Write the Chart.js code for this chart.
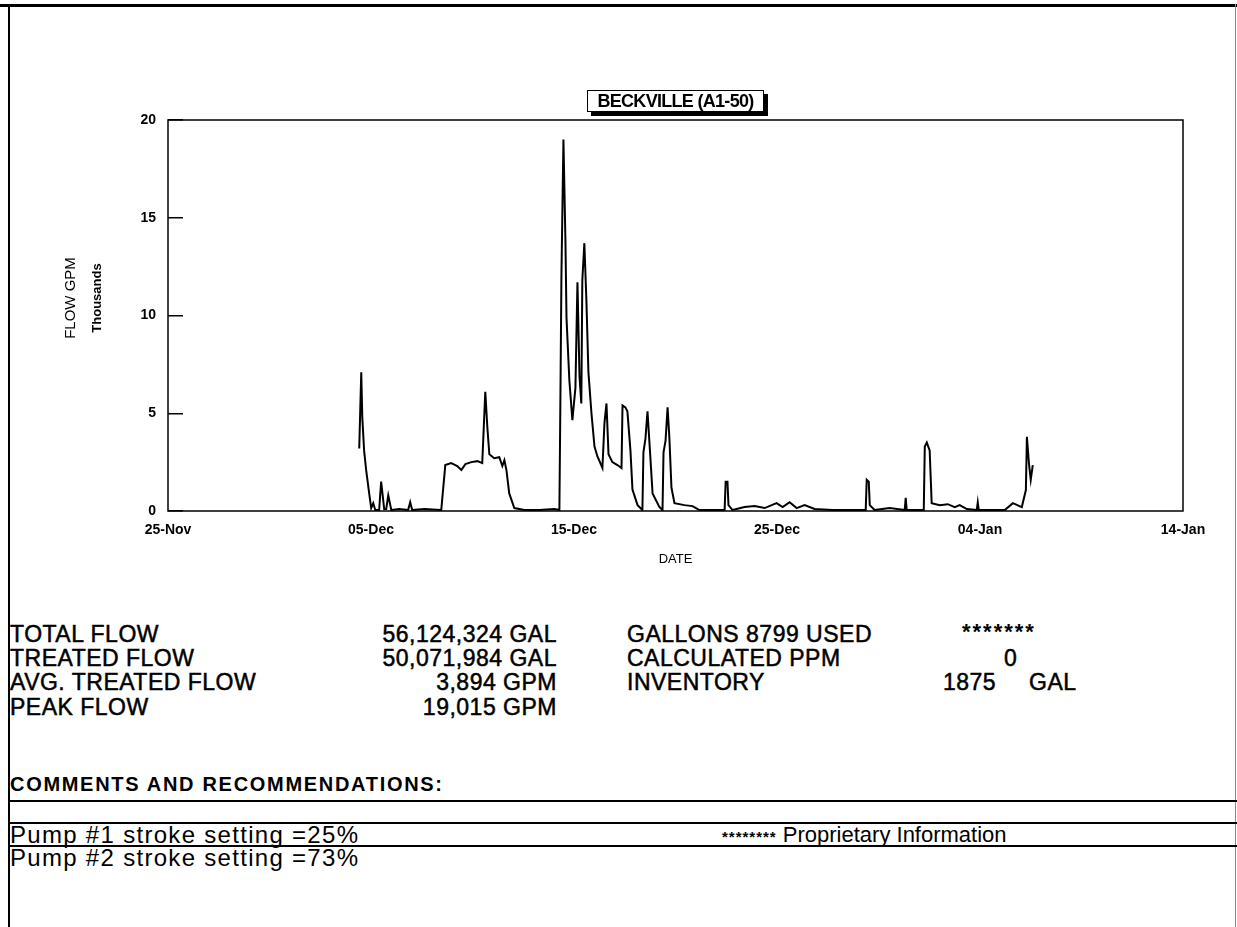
<!DOCTYPE html>
<html>
<head>
<meta charset="utf-8">
<title>BECKVILLE (A1-50)</title>
<script src="https://cdn.jsdelivr.net/npm/chart.js@4/dist/chart.umd.min.js"></script>
<style>
    body { margin: 0; background: #fff; width: 1237px; height: 927px; position: relative; overflow: hidden;
           font-family: Arial, "Liberation Sans", sans-serif; color: #000; }
    #chartBox { position: absolute; left: 0; top: 0; width: 1237px; height: 600px; }
    .abs { position: absolute; white-space: nowrap; }
    .rule { position: absolute; background: #000; }
    .title-box { position: absolute; left: 587px; top: 90px; width: 175px; height: 20px; border: 1px solid #000;
                 box-shadow: 4px 4px 0 #000; background: #fff; text-align: center; font-size: 18px; line-height: 20px;
                 font-weight: bold; letter-spacing: -0.7px; }
    .ytitle { position: absolute; width: 120px; height: 18px; line-height: 18px; text-align: center;
              transform: rotate(-90deg); white-space: nowrap; }
    .stat { font-size: 23px; line-height: 24px; letter-spacing: 0.5px; -webkit-text-stroke: 0.5px #000; }
    .num { text-align: right; }
    .comment { font-size: 24px; line-height: 23px; letter-spacing: 1.3px; }
</style>
</head>
<body>

<!-- page frame -->
<div class="rule" style="left:0; top:4px; width:1237px; height:3px;"></div>
<div class="rule" style="left:8px; top:4px; width:2px; height:923px;"></div>
<div class="rule" style="left:1235px; top:4px; width:1px; height:923px; background:#888;"></div>

<div id="chartBox"><canvas id="flowChart" width="1237" height="600"></canvas></div>
<div class="title-box">BECKVILLE (A1-50)</div>
<div class="ytitle" style="left:10px; top:289px; font-size:15px;">FLOW GPM</div>
<div class="ytitle" style="left:37px; top:289px; font-size:13px; font-weight:bold;">Thousands</div>

<!-- summary figures -->
<div class="abs stat" style="left:10px; top:622px;">TOTAL FLOW</div>
<div class="abs stat" style="left:10px; top:646px;">TREATED FLOW</div>
<div class="abs stat" style="left:10px; top:670px;">AVG. TREATED FLOW</div>
<div class="abs stat" style="left:10px; top:695px;">PEAK FLOW</div>
<div class="abs stat num" style="left:300px; width:257px; top:622px;">56,124,324 GAL</div>
<div class="abs stat num" style="left:300px; width:257px; top:646px;">50,071,984 GAL</div>
<div class="abs stat num" style="left:300px; width:257px; top:670px;">3,894 GPM</div>
<div class="abs stat num" style="left:300px; width:257px; top:695px;">19,015 GPM</div>

<div class="abs stat" style="left:627px; top:622px;">GALLONS 8799 USED</div>
<div class="abs stat" style="left:627px; top:646px;">CALCULATED PPM</div>
<div class="abs stat" style="left:627px; top:670px;">INVENTORY</div>
<div class="abs" style="left:962px; top:620px; font-size:22px; line-height:24px; font-weight:bold; letter-spacing:2px;">*******</div>
<div class="abs stat" style="left:1004px; top:646px;">0</div>
<div class="abs stat" style="left:943px; top:670px; word-spacing:26px;">1875 GAL</div>

<!-- comments -->
<div class="abs" style="left:10px; top:773px; font-size:20px; line-height:22px; font-weight:bold; letter-spacing:1.7px;">COMMENTS AND RECOMMENDATIONS:</div>
<div class="rule" style="left:8px; top:800px; width:1229px; height:1.5px;"></div>
<div class="rule" style="left:8px; top:822px; width:1229px; height:1.5px;"></div>
<div class="rule" style="left:8px; top:845px; width:1229px; height:1.5px;"></div>
<div class="abs comment" style="left:10px; top:823px;">Pump #1 stroke setting =25%</div>
<div class="abs comment" style="left:722px; top:823px; font-size:22px; letter-spacing:0;"><b style="font-size:15px; letter-spacing:1px;">********</b> Proprietary Information</div>
<div class="abs comment" style="left:10px; top:846px;">Pump #2 stroke setting =73%</div>

<script>
// x axis: days after 25-Nov, labelled every 10 days
const xTickLabels = ['25-Nov', '05-Dec', '15-Dec', '25-Dec', '04-Jan', '14-Jan'];
const yTickValues = [0, 5, 10, 15, 20];

// flow readings (thousands of GPM)
const flowDays = [
    9.42, 9.52, 9.57, 9.66, 9.76, 9.91, 10.01, 10.11, 10.21, 10.40, 10.50, 10.65, 10.75, 10.85, 11.00,
    11.39, 11.83, 11.93, 12.03, 12.62, 13.46, 13.56, 13.66, 13.95, 14.25, 14.45, 14.65, 14.94, 15.24, 15.48,
    15.63, 15.73, 15.83, 16.07, 16.32, 16.47, 16.57, 16.67, 16.81, 17.06, 17.55, 18.29, 19.03, 19.28,
    19.33, 19.38, 19.48, 19.58, 19.63, 19.77, 19.92, 20.07, 20.17, 20.27, 20.36, 20.41, 20.51, 20.61,
    20.71, 20.86, 21.01, 21.15, 21.40, 21.50, 21.60, 21.70, 21.89, 22.14, 22.34, 22.39, 22.53, 22.63,
    22.78, 22.88, 23.13, 23.37, 23.42, 23.52, 23.62, 23.77, 23.87, 24.21, 24.36, 24.41, 24.51, 24.61,
    24.70, 24.80, 24.95, 25.44, 25.84, 26.18, 27.42, 27.47, 27.56, 27.61, 27.81, 28.40, 28.90, 29.39,
    29.98, 30.28, 30.62, 30.97, 31.36, 31.85, 32.74, 34.37, 34.42, 34.52, 34.57, 34.81, 35.55, 36.29,
    36.34, 36.39, 37.23, 37.28, 37.38, 37.52, 37.62, 38.02, 38.41, 38.76, 39.00, 39.35, 39.84, 39.89,
    39.94, 41.22, 41.62, 42.06, 42.26, 42.31, 42.41, 42.50, 42.60
];
const flowThousands = [
    3.2, 7.1, 4.8, 3.1, 2.1, 0.9, 0.15, 0.4, 0.05, 0.05, 1.5, 0.1, 0.1, 0.8, 0.05,
    0.1, 0.05, 0.45, 0.05, 0.1, 0.05, 1.2, 2.35, 2.45, 2.3, 2.1, 2.4, 2.5, 2.55, 2.45,
    6.1, 4.3, 2.9, 2.7, 2.75, 2.3, 2.6, 2.1, 0.9, 0.15, 0.05, 0.05, 0.1, 0.05,
    5.7, 12.0, 19.0, 13.7, 9.9, 6.7, 4.65, 6.3, 11.7, 6.9, 5.5, 11.8, 13.7, 10.8,
    7.1, 5.0, 3.3, 2.8, 2.2, 4.5, 5.5, 2.9, 2.5, 2.35, 2.2, 5.4, 5.3, 5.1,
    3.1, 1.1, 0.3, 0.05, 3.0, 3.7, 5.1, 2.6, 0.9, 0.2, 0.05, 3.0, 3.6, 5.3,
    3.7, 1.2, 0.4, 0.3, 0.25, 0.05, 0.05, 1.5, 1.5, 0.3, 0.05, 0.2, 0.25, 0.15,
    0.4, 0.2, 0.45, 0.15, 0.3, 0.1, 0.05, 0.05, 1.6, 1.5, 0.3, 0.05, 0.15, 0.05,
    0.67, 0.05, 0.05, 3.3, 3.5, 3.1, 0.4, 0.3, 0.35, 0.2, 0.3, 0.1, 0.05, 0.45,
    0.05, 0.05, 0.4, 0.2, 1.07, 3.8, 2.45, 1.6, 2.35
];

const boldTick = { family: 'Arial, "Liberation Sans", sans-serif', size: 14, weight: 'bold' };

// box round the plot area
const plotFrame = {
    id: 'plotFrame',
    afterDatasetsDraw(chart) {
        const { ctx, chartArea: a } = chart;
        ctx.save();
        ctx.strokeStyle = '#000';
        ctx.lineWidth = 1.5;
        ctx.strokeRect(a.left, a.top, a.right - a.left, a.bottom - a.top);
        ctx.restore();
    }
};

const ctx = document.getElementById('flowChart').getContext('2d');
const flowChart = new Chart(ctx, {
    type: 'line',
    data: {
        datasets: [{
            data: flowDays.map((d, i) => ({ x: d, y: flowThousands[i] })),
            borderColor: '#000',
            borderWidth: 2,
            pointRadius: 0,
            tension: 0,
            fill: false
        }]
    },
    options: {
        responsive: false,
        animation: false,
        layout: { padding: { left: 0, top: 120, right: 54, bottom: 29 } },
        plugins: { legend: { display: false }, tooltip: { enabled: false } },
        scales: {
            x: {
                type: 'linear',
                min: 0,
                max: 50,
                afterBuildTicks: s => { s.ticks = xTickLabels.map((_, i) => ({ value: i * 10 })); },
                ticks: { callback: v => xTickLabels[v / 10], font: boldTick, color: '#000', padding: 11,
                         maxRotation: 0, autoSkip: false },
                grid: { display: false, drawTicks: false },
                border: { display: false },
                title: { display: true, text: 'DATE', color: '#000', padding: { top: 3 },
                         font: { family: 'Arial, "Liberation Sans", sans-serif', size: 13 } },
                afterFit: s => { s.height = 60; }
            },
            y: {
                min: 0,
                max: 20,
                afterBuildTicks: s => { s.ticks = yTickValues.map(v => ({ value: v })); },
                ticks: { font: boldTick, color: '#000', padding: 27 },
                grid: { drawOnChartArea: false, tickLength: -15, color: '#000', lineWidth: 1.5 },
                border: { display: false },
                afterFit: s => { s.width = 168; }
            }
        }
    },
    plugins: [plotFrame]
});
</script>
</body>
</html>
